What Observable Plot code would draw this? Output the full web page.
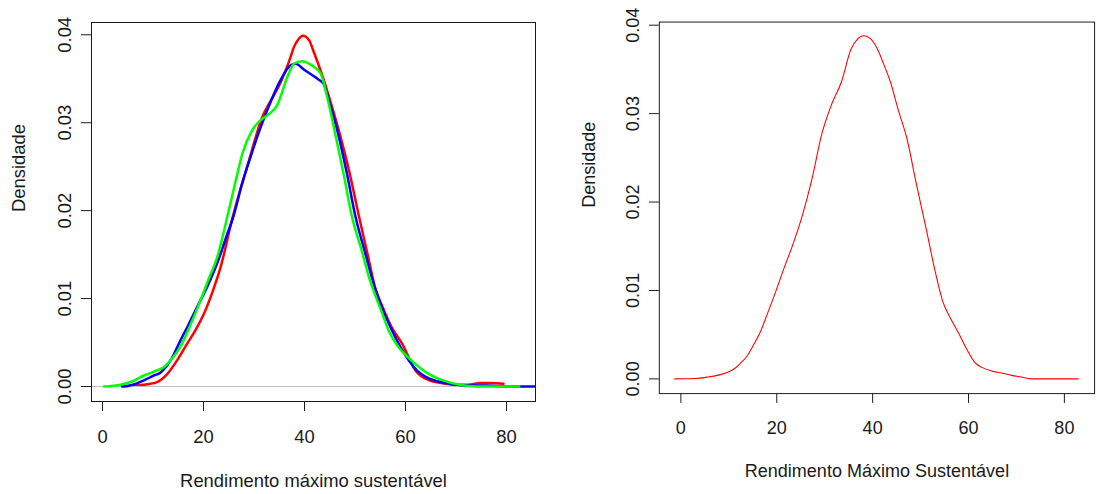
<!DOCTYPE html>
<html>
<head>
<meta charset="utf-8">
<script src="https://cdn.jsdelivr.net/npm/d3@7"></script>
<script src="https://cdn.jsdelivr.net/npm/@observablehq/plot@0.6"></script>
<style>
  html, body { margin: 0; padding: 0; background: #fff; overflow: hidden; }
  #wrap { position: relative; width: 1099px; height: 494px; overflow: hidden; }
  #left { position: absolute; left: 0; top: 0; }
  #right { position: absolute; left: 550px; top: 0; }
</style>
</head>
<body>
<div id="wrap"><div id="left"></div><div id="right"></div></div>
<script>
// ---- Data ----
const xTicks = [0, 20, 40, 60, 80];
const yTicks = [0, 0.01, 0.02, 0.03, 0.04];
const yLabel = "Densidade";
const xLabelLeft = "Rendimento máximo sustentável";
const xLabelRight = "Rendimento Máximo Sustentável";

// Left panel: red curve
const redX = [4.2, 6.2, 8, 10.8, 12.8, 14.8, 16.8, 18.5, 20.1, 21.8, 23.4, 25.7, 27.5, 29.0, 31.6, 33.5, 35.2, 36.3, 37.2, 37.9, 38.8, 39.7, 40.9, 41.8, 43.5, 44.5, 46.8, 48.8, 50.8, 52.5, 54, 55.5, 57.3, 59.3, 62.0, 64.7, 67, 70.1, 72, 74.9, 77, 79.4];
const redY = [0, 0.0001, 0.0002, 0.0005, 0.0014, 0.003, 0.0049, 0.0065, 0.0083, 0.0108, 0.0136, 0.0191, 0.0228, 0.0257, 0.0306, 0.0327, 0.0345, 0.0360, 0.0374, 0.0386, 0.0395, 0.0399, 0.0394, 0.0381, 0.0354, 0.0336, 0.0291, 0.0246, 0.0193, 0.0150, 0.0112, 0.0090, 0.0067, 0.0049, 0.0018, 0.0007, 0.0004, 0.0002, 0.0002, 0.0004, 0.0004, 0.0003];

// Left panel: blue curve
const blueX = [3.9, 6, 8.2, 10, 11.5, 13.5, 15.4, 17, 18.7, 20.7, 22.7, 24.5, 26.0, 27.6, 29.3, 31, 32.6, 35.2, 37.2, 38.2, 40, 42.8, 43.8, 45, 46.5, 48.3, 50.1, 52, 53.9, 55.6, 57.3, 59, 60.6, 62.3, 64.0, 66.3, 68.7, 72, 76, 80, 86, 90];
const blueY = [0, 0.0002, 0.0007, 0.0012, 0.0016, 0.0030, 0.0052, 0.0070, 0.0090, 0.0113, 0.0140, 0.0170, 0.0195, 0.0230, 0.0261, 0.0290, 0.0314, 0.0348, 0.0365, 0.0367, 0.0360, 0.0349, 0.0344, 0.0322, 0.0291, 0.0245, 0.0193, 0.0152, 0.0113, 0.0086, 0.0064, 0.0045, 0.0030, 0.0018, 0.0011, 0.0006, 0.0003, 0.0001, 0.0001, 0, 0, 0];

// Left panel: green curve
const greenX = [0.3, 3.6, 6, 8.2, 10.2, 12.1, 13.8, 15.4, 17.4, 19.4, 21, 22.7, 25.0, 26.3, 27.7, 29.6, 31.3, 33, 34.6, 36.6, 37.9, 39.5, 41.5, 43.2, 44.5, 46.1, 47.8, 49.4, 51.3, 53, 55.2, 56.8, 58.6, 60.5, 62.7, 65, 67.4, 70.7, 74, 82.5];
const greenY = [0, 0.0002, 0.0006, 0.00125, 0.0017, 0.0022, 0.0032, 0.0045, 0.0070, 0.0098, 0.0122, 0.0147, 0.0200, 0.0232, 0.0265, 0.0291, 0.0303, 0.0310, 0.0320, 0.0352, 0.0367, 0.0370, 0.0365, 0.0356, 0.0329, 0.0287, 0.0240, 0.0193, 0.0155, 0.0120, 0.0086, 0.0062, 0.0045, 0.0033, 0.0022, 0.0013, 0.0007, 0.0002, 0, 0];

// Right panel: single red curve
const rightX = [-1.3, 3.1, 5.5, 8.2, 10, 11.3, 12.5, 13.7, 15, 16.4, 18, 19.8, 21.5, 23.3, 25.3, 27.3, 29.4, 31.4, 33.5, 35.5, 36.8, 38.2, 39.5, 41.0, 42.3, 43.7, 45.4, 47.1, 49.1, 51.2, 52.9, 54.6, 56.3, 58.0, 59.7, 61.4, 62.8, 64.8, 66.9, 69, 71.0, 73.0, 82.9];
const rightY = [0, 0.00004, 0.0002, 0.00048, 0.0008, 0.0012, 0.0018, 0.0025, 0.0037, 0.0051, 0.0073, 0.0099, 0.0125, 0.0151, 0.0184, 0.0225, 0.0277, 0.0310, 0.0336, 0.0373, 0.0384, 0.0388, 0.0385, 0.0373, 0.0356, 0.0336, 0.0303, 0.0273, 0.0221, 0.0169, 0.0125, 0.0088, 0.0068, 0.0051, 0.0033, 0.0018, 0.0013, 0.0009, 0.00067, 0.0004, 0.00022, 0, 0];

// ---- helpers ----
const pts = (xs, ys) => ys.map((y, i) => ({x: xs[i], y}));
const FONT = "'Liberation Sans', Arial, sans-serif";
const FS = 18.4;
const INK = "#1a1a1a";

function axes() {
  return [
    Plot.axisX({ticks: xTicks, tickSize: 10, tickPadding: 18.5, tickFormat: d => String(d), label: null, stroke: INK, fill: INK, fontSize: FS}),
    Plot.axisY({ticks: yTicks, tickSize: 10, tickPadding: 11, tickRotate: -90, tickFormat: d3.format(".2f"), label: null, stroke: INK, fill: INK, fontSize: FS}),
    Plot.frame({stroke: INK, strokeWidth: 1})
  ];
}

// ---- Left panel ----
const left = Plot.plot({
  width: 549, height: 494,
  marginLeft: 91, marginRight: 14, marginTop: 22, marginBottom: 93,
  style: {fontFamily: FONT, fontSize: FS + "px", color: INK, background: "white"},
  x: {domain: [-2.18, 85.74], label: null},
  y: {domain: [-0.001706, 0.0414], label: null},
  marks: [
    Plot.line(pts(redX, redY), {x: "x", y: "y", stroke: "#ff0000", strokeWidth: 2.5, curve: "monotone-x", clip: true}),
    Plot.ruleY([0], {stroke: "#bebebe", strokeWidth: 1, clip: true}),
    Plot.line(pts(blueX, blueY), {x: "x", y: "y", stroke: "#0000ff", strokeWidth: 2.5, curve: "monotone-x", clip: true}),
    Plot.line(pts(greenX, greenY), {x: "x", y: "y", stroke: "#00ff00", strokeWidth: 2.5, curve: "monotone-x", clip: true}),
    ...axes(),
    Plot.text([xLabelLeft], {text: d => d, frameAnchor: "bottom", dy: 85, lineAnchor: "bottom", fontSize: FS, fill: INK}),
    Plot.text([yLabel], {text: d => d, frameAnchor: "left", dx: -72.5, rotate: -90, lineAnchor: "middle", fontSize: FS, fill: INK})
  ]
});
document.getElementById("left").appendChild(left);

// ---- Right panel ----
const right = Plot.plot({
  width: 560, height: 494,
  marginLeft: 111, marginRight: 5, marginTop: 22, marginBottom: 93,
  style: {fontFamily: FONT, fontSize: FS + "px", color: INK, background: "white"},
  x: {domain: [-4.5, 86.3], label: null},
  y: {domain: [-0.001664, 0.040355], label: null},
  marks: [
    Plot.line(pts(rightX, rightY), {x: "x", y: "y", stroke: "#ff0000", strokeWidth: 1.1, curve: "monotone-x", clip: true}),
    ...axes(),
    Plot.text([xLabelRight], {text: d => d, frameAnchor: "bottom", dy: 85, lineAnchor: "bottom", fontSize: FS, fill: INK}),
    Plot.text([yLabel], {text: d => d, frameAnchor: "left", dx: -72, rotate: -90, lineAnchor: "middle", fontSize: FS, fill: INK})
  ]
});
document.getElementById("right").appendChild(right);
</script>
</body>
</html>
